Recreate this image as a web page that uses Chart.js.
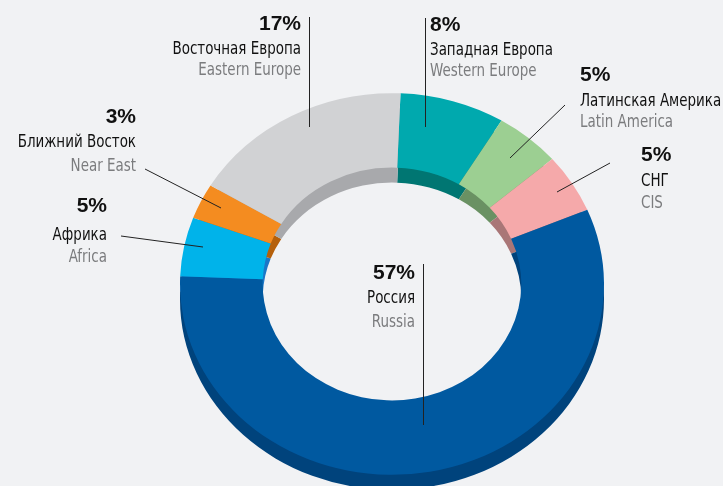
<!DOCTYPE html>
<html>
<head>
<meta charset="utf-8">
<script src="https://cdn.jsdelivr.net/npm/chart.js@4"></script>
<style>
  html, body { margin: 0; padding: 0; background: #f1f2f4; overflow: hidden; }
  #wrap { position: relative; width: 723px; height: 486px; }
</style>
</head>
<body>
<div id="wrap"><canvas id="pie" width="723" height="486"></canvas></div>
<script>
// data, clockwise from the top
const regionsRu = ['Западная Европа', 'Латинская Америка', 'СНГ', 'Россия', 'Африка', 'Ближний Восток', 'Восточная Европа'];
const regionsEn = ['Western Europe', 'Latin America', 'CIS', 'Russia', 'Africa', 'Near East', 'Eastern Europe'];
const shares = [8, 5, 5, 57, 5, 3, 17];

const topColors = ['#00a9ae', '#9ccf92', '#f5a9aa', '#0059a0', '#00b3ea', '#f48c20', '#d1d2d4'];
const wallColors = ['#007672', '#6a9163', '#a97677', '#00437c', '#1b77c7', '#b5600b', '#a8a9ac'];

// label placement (screen px): text anchor, baselines, leader line
const labelPos = [
  { align: 'left',  x: 430, yPct: 31,  yRu: 55,  yEn: 76,  line: [425.5, 18, 425.5, 127] },
  { align: 'left',  x: 580, yPct: 81,  yRu: 106, yEn: 127, line: [565, 105, 510, 158] },
  { align: 'left',  x: 641, yPct: 161, yRu: 186, yEn: 208, line: [610, 163, 557, 192] },
  { align: 'right', x: 415, yPct: 279, yRu: 303, yEn: 327, line: [423.5, 264, 423.5, 425] },
  { align: 'right', x: 107, yPct: 212, yRu: 240, yEn: 262, line: [121, 236, 203, 247] },
  { align: 'right', x: 136, yPct: 123, yRu: 147, yEn: 171, line: [145, 169, 221, 208] },
  { align: 'right', x: 301, yPct: 30,  yRu: 54,  yEn: 75,  line: [309.5, 17, 309.5, 127] }
];

const TILT = 0.9;     // vertical squash of the ring
const CENTER_Y = 284; // where the ring centre ends up on screen
const DEPTH = 15;     // thickness of the 3d wall
const TEXT_SQUEEZE = 0.88; // the original uses a narrow face

const NARROW = '"Liberation Sans Narrow", "DejaVu Sans Condensed", "Roboto Condensed", Roboto, sans-serif';

// squash the ring into an ellipse and draw the darker wall underneath
const tiltPlugin = {
  id: 'tilt',
  beforeDatasetsDraw(chart) {
    const ctx = chart.ctx;
    const arcs = chart.getDatasetMeta(0).data;
    ctx.save();
    ctx.translate(0, CENTER_Y);
    ctx.scale(1, TILT);
    ctx.translate(0, -arcs[0].y);

    ctx.save();
    ctx.translate(0, DEPTH / TILT);
    arcs.forEach((arc, i) => {
      ctx.beginPath();
      ctx.arc(arc.x, arc.y, arc.outerRadius, arc.startAngle, arc.endAngle);
      ctx.arc(arc.x, arc.y, arc.innerRadius, arc.endAngle, arc.startAngle, true);
      ctx.closePath();
      ctx.fillStyle = wallColors[i];
      ctx.fill();
    });
    ctx.restore();
  },
  afterDatasetsDraw(chart) {
    chart.ctx.restore();
  }
};

function narrowText(ctx, txt, x, y) {
  ctx.save();
  ctx.translate(x, y);
  ctx.scale(TEXT_SQUEEZE, 1);
  ctx.fillText(txt, 0, 0);
  ctx.restore();
}

// leader lines and the three-line labels
const labelPlugin = {
  id: 'labels',
  afterDraw(chart) {
    const ctx = chart.ctx;
    ctx.save();
    labelPos.forEach((p, i) => {
      ctx.beginPath();
      ctx.moveTo(p.line[0], p.line[1]);
      ctx.lineTo(p.line[2], p.line[3]);
      ctx.strokeStyle = '#222';
      ctx.lineWidth = 1;
      ctx.stroke();

      ctx.textAlign = p.align;
      ctx.textBaseline = 'alphabetic';
      ctx.fillStyle = '#111';
      ctx.font = 'bold 21px "Liberation Sans", Arial, sans-serif';
      ctx.fillText(shares[i] + '%', p.x, p.yPct);
      ctx.font = '17px ' + NARROW;
      narrowText(ctx, regionsRu[i], p.x, p.yRu);
      ctx.fillStyle = '#7b7c7e';
      narrowText(ctx, regionsEn[i], p.x, p.yEn);
    });
    ctx.restore();
  }
};

new Chart(document.getElementById('pie'), {
  type: 'doughnut',
  data: {
    labels: regionsRu,
    datasets: [{
      data: shares,
      backgroundColor: topColors,
      borderWidth: 0,
      clip: false
    }]
  },
  options: {
    responsive: false,
    devicePixelRatio: 1,
    animation: false,
    events: [],
    rotation: 2.3,
    cutout: '61%',
    layout: { padding: { left: 180, right: 119, top: 31, bottom: 31 } },
    plugins: {
      legend: { display: false },
      tooltip: { enabled: false }
    }
  },
  plugins: [tiltPlugin, labelPlugin]
});
</script>
</body>
</html>
